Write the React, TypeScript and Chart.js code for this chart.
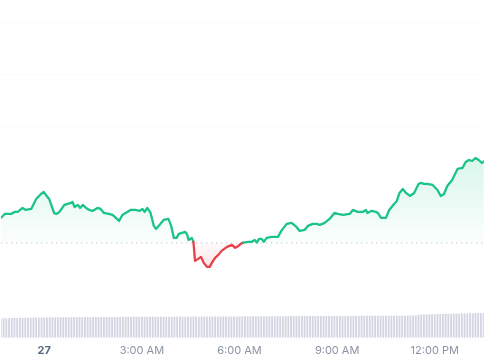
import React, { useEffect, useRef } from "react";
import { Chart, registerables } from "chart.js";

Chart.register(...registerables);

// ---- data ----
const OPEN_PRICE = 2.0;

// minutes relative to midnight of the 27th
const PRICE_TIMES = [
  -80, -73, -67, -61, -55, -49, -40, -34, -24, -15, -6, -1, 3, 9, 18, 22, 28, 37, 43, 49,
  52, 56, 62, 66, 71, 77, 83, 89, 98, 104, 110, 119, 126, 132, 138, 144, 153, 159, 168, 176,
  181, 185, 190, 196, 202, 206, 214, 220, 229, 234, 239, 244, 248, 254, 260, 263, 266, 272, 275, 278,
  284, 289, 294, 300, 305, 309, 315, 321, 327, 337, 346, 352, 358, 362, 367, 376, 382, 388, 392, 396,
  401, 405, 410, 419, 431, 437, 447, 456, 465, 471, 480, 486, 495, 502, 508, 517, 526, 535, 541, 551,
  563, 569, 578, 587, 593, 596, 603, 612, 615, 621, 630, 636, 645, 650, 655, 661, 667, 674, 682, 690,
  694, 700, 706, 716, 725, 731, 737, 743, 752, 762, 771, 777, 783, 789, 795, 801, 807, 811,
];

const PRICES = [
  2.025, 2.029, 2.029, 2.029, 2.031, 2.031, 2.035, 2.033, 2.034, 2.044, 2.049, 2.051, 2.048, 2.044, 2.03, 2.029, 2.031, 2.038, 2.039, 2.04,
  2.041, 2.036, 2.038, 2.035, 2.038, 2.035, 2.033, 2.032, 2.035, 2.034, 2.03, 2.029, 2.028, 2.025, 2.022, 2.028, 2.031, 2.033, 2.033, 2.032,
  2.034, 2.031, 2.035, 2.03, 2.017, 2.014, 2.019, 2.023, 2.024, 2.017, 2.005, 2.005, 2.009, 2.01, 2.011, 2.009, 2.003, 2.005, 2.001, 1.982,
  1.984, 1.986, 1.98, 1.976, 1.976, 1.98, 1.985, 1.988, 1.992, 1.996, 1.998, 1.995, 1.997, 1.999, 2.0003, 2.001, 2.001, 2.003, 2.0003, 2.004,
  2.004, 2.001, 2.005, 2.006, 2.006, 2.012, 2.019, 2.02, 2.016, 2.012, 2.013, 2.017, 2.019, 2.019, 2.018, 2.02, 2.024, 2.03, 2.029, 2.028,
  2.029, 2.033, 2.031, 2.031, 2.033, 2.03, 2.032, 2.031, 2.03, 2.025, 2.025, 2.033, 2.039, 2.042, 2.05, 2.054, 2.05, 2.047, 2.05, 2.059,
  2.06, 2.059, 2.059, 2.058, 2.053, 2.047, 2.049, 2.057, 2.063, 2.074, 2.075, 2.081, 2.083, 2.082, 2.085, 2.083, 2.08, 2.082,
];

const VOLUME_START = -80; // minutes
const VOLUME_STEP = 5; // minutes
const VOLUMES = [
  3.86, 3.88, 3.85, 3.87, 3.9, 3.89, 3.91, 3.93, 3.92, 3.95, 3.97, 3.96, 3.98, 4.0, 3.99,
  4.01, 4.02, 4.0, 4.03, 4.04, 4.02, 4.05, 4.06, 4.04, 4.05, 4.07, 4.06, 4.05, 4.08, 4.07,
  4.06, 4.08, 4.09, 4.07, 4.08, 4.1, 4.09, 4.08, 4.1, 4.11, 4.09, 4.1, 4.12, 4.11, 4.1,
  4.11, 4.13, 4.12, 4.11, 4.13, 4.14, 4.12, 4.13, 4.15, 4.14, 4.13, 4.15, 4.16, 4.14, 4.15,
  4.16, 4.15, 4.17, 4.16, 4.15, 4.17, 4.18, 4.16, 4.17, 4.18, 4.17, 4.19, 4.18, 4.17, 4.19,
  4.18, 4.19, 4.2, 4.18, 4.19, 4.2, 4.21, 4.19, 4.2, 4.21, 4.2, 4.22, 4.21, 4.2, 4.22,
  4.23, 4.22, 4.24, 4.23, 4.25, 4.24, 4.26, 4.25, 4.27, 4.26, 4.25, 4.27, 4.28, 4.26, 4.27,
  4.28, 4.27, 4.29, 4.28, 4.27, 4.29, 4.3, 4.28, 4.29, 4.3, 4.29, 4.31, 4.3, 4.29, 4.31,
  4.3, 4.32, 4.31, 4.3, 4.32, 4.33, 4.31, 4.32, 4.33, 4.32, 4.34, 4.33, 4.32, 4.34, 4.35,
  4.33, 4.34, 4.35, 4.34, 4.36, 4.35, 4.34, 4.36, 4.37, 4.35, 4.36, 4.37, 4.36, 4.38, 4.37,
  4.38, 4.39, 4.38, 4.4, 4.55, 4.6, 4.62, 4.61, 4.64, 4.66, 4.65, 4.68, 4.7, 4.69, 4.72,
  4.74, 4.73, 4.76, 4.78, 4.77, 4.8, 4.82, 4.81, 4.84, 4.86, 4.85, 4.88, 4.9, 4.89,
];

const X_TICKS = [0, 180, 360, 540, 720];
const X_LABELS = ["27", "3:00 AM", "6:00 AM", "9:00 AM", "12:00 PM"];
const GRID_PRICES = [2.221, 2.169, 2.117];

const X_MIN = -79.5;
const X_MAX = 810.5;
const Y_MIN = 1.905;
const Y_MAX = 2.242;
const VOLUME_AXIS_MAX = 66.4;

const GREEN = "#1ac486";
const RED = "#e8404a";

export default function App() {
  const ref = useRef<HTMLCanvasElement | null>(null);

  useEffect(() => {
    if (!ref.current) return;
    const priceData = PRICE_TIMES.map((t, i) => ({ x: t, y: PRICES[i] }));
    const volumeData = VOLUMES.map((v, i) => ({ x: VOLUME_START + i * VOLUME_STEP, y: v }));

    const chart = new Chart(ref.current, {
      type: "line",
      data: {
        datasets: [
          {
            type: "line",
            data: priceData,
            yAxisID: "y",
            borderColor: GREEN,
            borderWidth: 2.3,
            borderJoinStyle: "round",
            borderCapStyle: "round",
            pointRadius: 0,
            tension: 0,
            order: 0,
            fill: { target: { value: OPEN_PRICE }, above: "rgba(22,199,132,0.08)", below: "rgba(234,57,67,0.08)" },
            segment: {
              borderColor: (c: any) => ((c.p0.parsed.y + c.p1.parsed.y) / 2 < OPEN_PRICE ? RED : GREEN),
            },
          } as any,
          {
            type: "line",
            data: [
              { x: X_MIN, y: OPEN_PRICE },
              { x: X_MAX, y: OPEN_PRICE },
            ],
            yAxisID: "y",
            borderColor: "rgba(128,138,157,0.55)",
            borderWidth: 1,
            borderDash: [1.2, 3.8],
            pointRadius: 0,
            fill: false,
            order: 1,
          } as any,
          {
            type: "bar",
            data: volumeData,
            yAxisID: "yv",
            backgroundColor: "#d3d6e2",
            borderWidth: 0,
            barPercentage: 1,
            categoryPercentage: 0.68,
            order: 2,
          } as any,
        ],
      },
      options: {
        animation: false,
        responsive: false,
        maintainAspectRatio: false,
        layout: { padding: { left: 0, right: 0, top: 0, bottom: -3 } },
        plugins: { legend: { display: false }, tooltip: { enabled: false } },
        scales: {
          x: {
            type: "linear",
            min: X_MIN,
            max: X_MAX,
            offset: false,
            grid: { display: false, drawTicks: false, offset: false },
            border: { display: false },
            afterBuildTicks: (axis: any) => {
              axis.ticks = X_TICKS.map((v) => ({ value: v }));
            },
            ticks: {
              padding: 6,
              maxRotation: 0,
              autoSkip: false,
              color: (c: any) => (c.tick && c.tick.value === 0 ? "#58667e" : "#8b93a3"),
              font: (c: any) => ({
                family: "Inter, 'Noto Sans', sans-serif",
                size: 11,
                weight: c.tick && c.tick.value === 0 ? "bold" : "normal",
              }),
              callback: (v: any) => {
                const i = X_TICKS.indexOf(Number(v));
                return i >= 0 ? X_LABELS[i] : "";
              },
            },
          },
          y: {
            type: "linear",
            min: Y_MIN,
            max: Y_MAX,
            display: true,
            position: "left",
            afterBuildTicks: (axis: any) => {
              axis.ticks = GRID_PRICES.map((v) => ({ value: v }));
            },
            ticks: { display: false },
            grid: { color: "rgba(88,102,126,0.035)", drawTicks: false },
            border: { display: false },
          },
          yv: {
            type: "linear",
            min: 0,
            max: VOLUME_AXIS_MAX,
            display: false,
          },
        },
      } as any,
    });

    // gradient fills built from the scales
    const ys = chart.scales.y;
    const c2d = chart.ctx;
    const yOpen = ys.getPixelForValue(OPEN_PRICE);
    const yHigh = ys.getPixelForValue(Math.max(...PRICES));
    const yLow = ys.getPixelForValue(Math.min(...PRICES));
    const gUp = c2d.createLinearGradient(0, yHigh, 0, yOpen);
    gUp.addColorStop(0, "rgba(22,199,132,0.16)");
    gUp.addColorStop(1, "rgba(22,199,132,0.02)");
    const gDown = c2d.createLinearGradient(0, yOpen, 0, yLow);
    gDown.addColorStop(0, "rgba(234,57,67,0.02)");
    gDown.addColorStop(1, "rgba(234,57,67,0.13)");
    (chart.data.datasets[0] as any).fill = { target: { value: OPEN_PRICE }, above: gUp, below: gDown };
    chart.update("none");

    return () => chart.destroy();
  }, []);

  return (
    <div style={{ position: "fixed", left: 0, top: 0, width: 485, height: 360, background: "#fff" }}>
      <canvas ref={ref} width={485} height={360} style={{ display: "block" }} />
    </div>
  );
}
